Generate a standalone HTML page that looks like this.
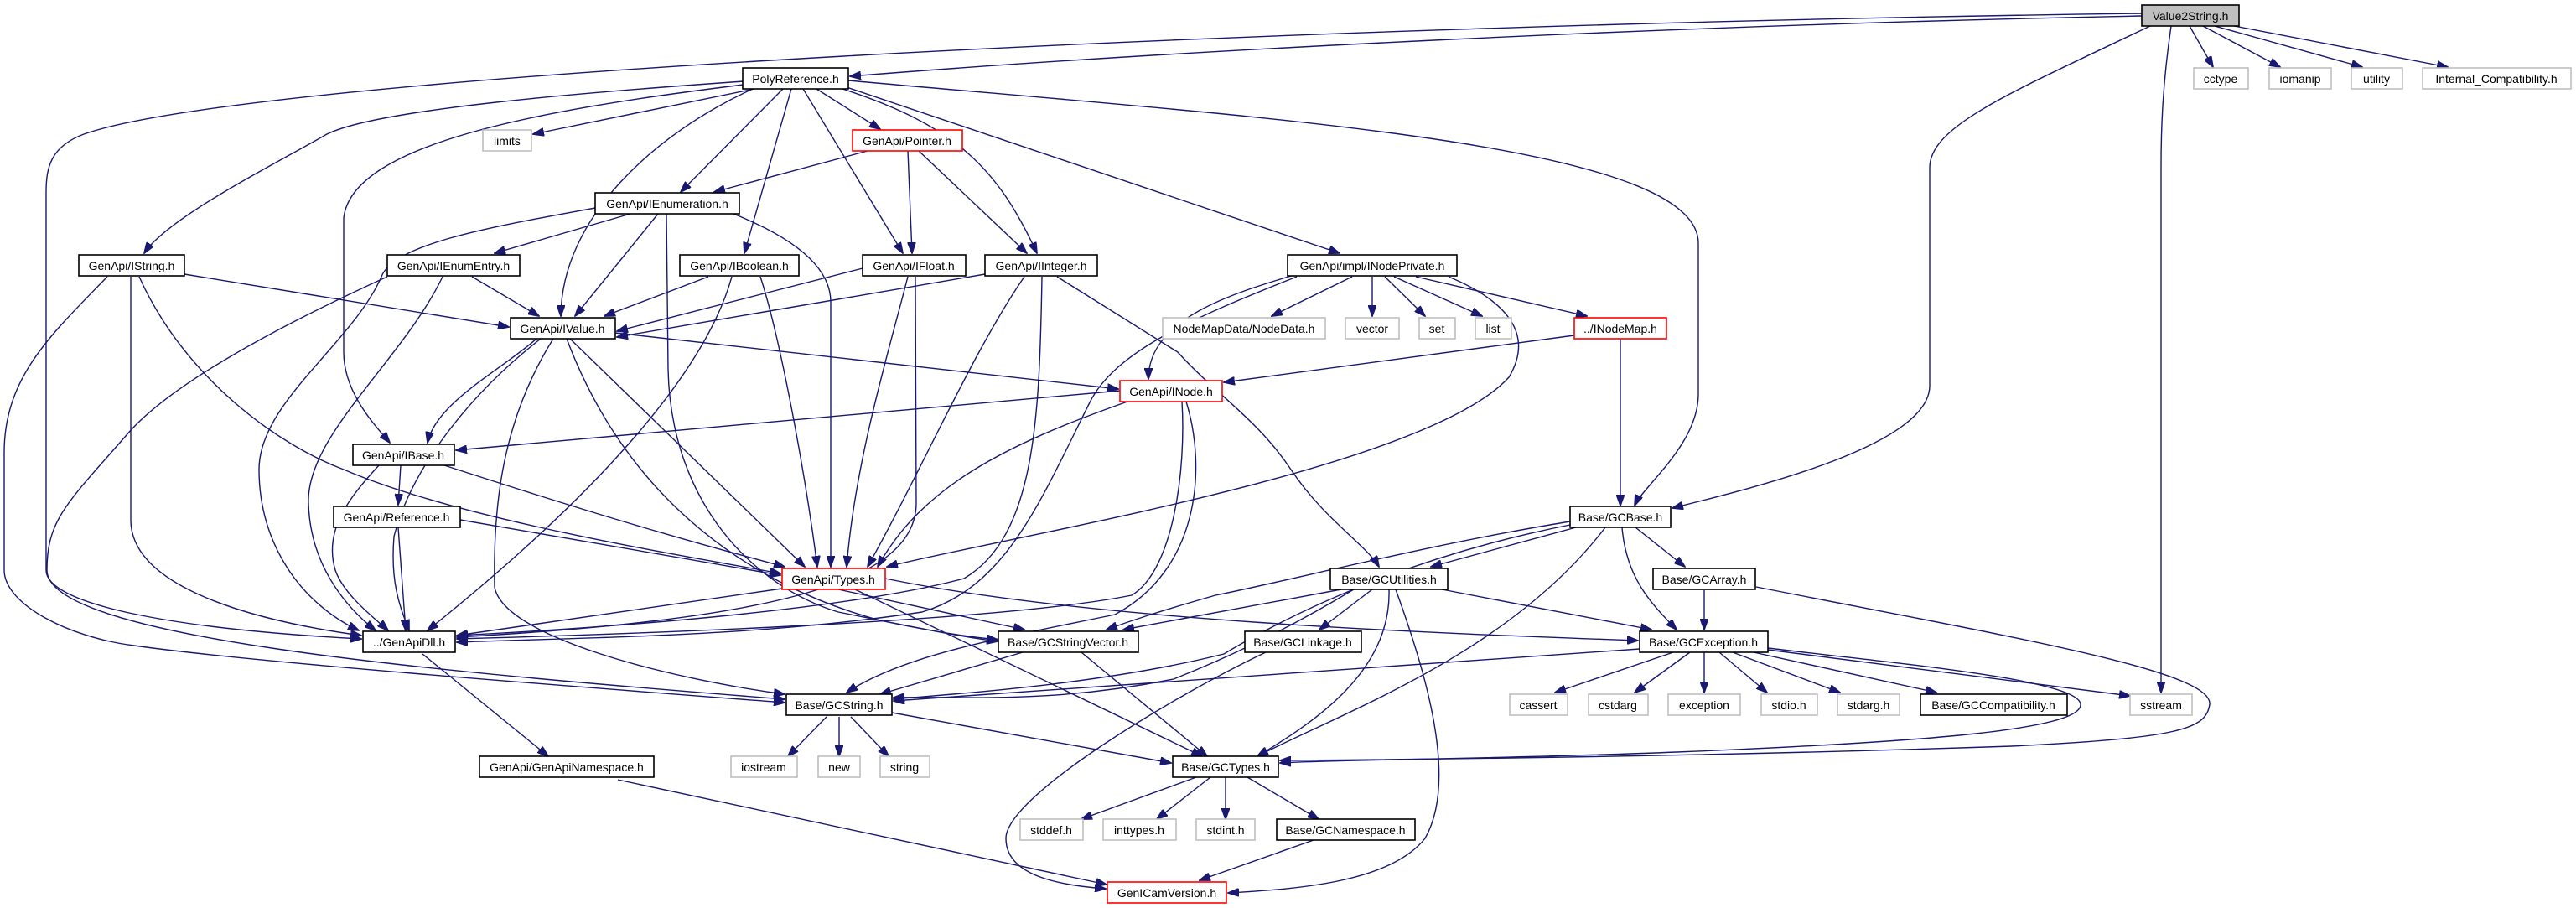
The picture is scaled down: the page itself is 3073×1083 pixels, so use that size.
<!DOCTYPE html>
<html><head><meta charset="utf-8"><style>
html,body{margin:0;padding:0;background:#fff}
svg{display:block}
text{font-family:"Liberation Sans",sans-serif;font-size:14px;fill:#000;text-anchor:middle}
.e{fill:none;stroke:#191970;stroke-width:1.4;marker-end:url(#a)}
.n{fill:#fff;stroke:#000;stroke-width:1.6}
.g{fill:#fff;stroke:#bfbfbf;stroke-width:1.6}
.r{fill:#fff;stroke:#ff0000;stroke-width:1.6}
</style></head><body>
<svg width="3073" height="1083" viewBox="0 0 3073 1083" xmlns="http://www.w3.org/2000/svg">
<defs><marker id="a" markerUnits="userSpaceOnUse" markerWidth="14" markerHeight="10" refX="13" refY="5" orient="auto"><path d="M0,0 L14,5 L0,10 z" fill="#191970" stroke="#191970"/></marker></defs>
<g>
<path class="e" d="M2555,19 C2000,30 1400,60 1014,91"/>
<path class="e" d="M2555,16 C1500,30 300,90 100,160 C60,175 55,200 55,230 L55,680 C55,720 200,750 431,762"/>
<path class="e" d="M2565,31 C2400,110 2302,150 2302,200 L2302,460 C2302,530 2100,580 1995,606"/>
<path class="e" d="M2590,31 C2580,100 2578,150 2578,200 L2578,826"/>
<path class="e" d="M2612,31 L2640,80"/>
<path class="e" d="M2628,31 L2720,80"/>
<path class="e" d="M2642,31 L2818,80"/>
<path class="e" d="M2660,30 L2920,80"/>
<path class="e" d="M1012,96 C1500,140 2026,170 2026,290 L2026,470 C2026,530 1960,580 1950,603"/>
<path class="e" d="M900,106 L636,160"/>
<path class="e" d="M887,97 C700,110 450,130 390,160 C320,200 200,260 172,302"/>
<path class="e" d="M887,101 C650,130 420,170 410,260 L410,420 C410,470 450,510 465,528"/>
<path class="e" d="M898,106 C780,160 670,260 669,377"/>
<path class="e" d="M934,106 L812,229"/>
<path class="e" d="M944,106 L888,302"/>
<path class="e" d="M958,106 L1077,302"/>
<path class="e" d="M974,106 L1050,154"/>
<path class="e" d="M1005,106 C1140,150 1190,200 1237,302"/>
<path class="e" d="M1010,104 L1598,302"/>
<path class="e" d="M1035,180 L852,229"/>
<path class="e" d="M1083,180 L1088,302"/>
<path class="e" d="M1096,180 L1225,302"/>
<path class="e" d="M752,255 L590,302"/>
<path class="e" d="M785,255 L686,377"/>
<path class="e" d="M710,248 C590,270 470,290 455,330 C420,410 309,480 309,560 C309,650 360,720 428,752"/>
<path class="e" d="M875,255 C950,285 991,320 991,360 L991,676"/>
<path class="e" d="M795,255 L797,440 C800,600 900,700 1000,730 C1100,750 1150,760 1190,765"/>
<path class="e" d="M220,327 L607,390"/>
<path class="e" d="M156,330 L156,620 C156,700 300,740 431,758"/>
<path class="e" d="M128,330 C60,400 5,450 5,540 L5,680 C5,720 80,760 160,770 C300,790 700,820 936,838"/>
<path class="e" d="M166,330 C220,450 330,530 410,560 C550,620 800,660 931,684"/>
<path class="e" d="M563,330 L643,377"/>
<path class="e" d="M528,330 C480,430 365,520 368,600 C370,680 420,730 448,752"/>
<path class="e" d="M462,330 C330,390 200,460 150,520 C80,600 56,620 56,680 C56,760 500,800 936,834"/>
<path class="e" d="M845,330 L721,377"/>
<path class="e" d="M907,330 C930,400 960,560 975,676"/>
<path class="e" d="M873,330 C840,450 700,600 510,752"/>
<path class="e" d="M1029,320 L736,395"/>
<path class="e" d="M1083,330 C1060,420 1020,550 1010,676"/>
<path class="e" d="M1092,330 L1093,600 C1093,700 900,740 545,760"/>
<path class="e" d="M1175,327 L736,402"/>
<path class="e" d="M1222,330 C1160,420 1100,560 1035,676"/>
<path class="e" d="M1243,330 C1240,500 1235,640 1150,690 C1000,730 700,750 545,758"/>
<path class="e" d="M1261,330 L1405,420 C1450,470 1500,500 1540,560 C1580,620 1630,650 1645,676"/>
<path class="e" d="M1613,330 L1517,377"/>
<path class="e" d="M1637,330 L1637,377"/>
<path class="e" d="M1652,330 L1700,377"/>
<path class="e" d="M1663,330 L1768,377"/>
<path class="e" d="M1689,330 L1893,377"/>
<path class="e" d="M1547,327 C1470,350 1370,380 1370,452"/>
<path class="e" d="M1547,330 C1420,380 1330,420 1300,480 C1240,600 1200,700 1100,730 C900,760 700,760 545,766"/>
<path class="e" d="M1728,330 C1800,360 1830,400 1800,450 C1700,560 1200,640 1058,676"/>
<path class="e" d="M1878,400 L1460,456"/>
<path class="e" d="M1933,404 L1933,603"/>
<path class="e" d="M734,397 L1334,464"/>
<path class="e" d="M640,404 C600,440 520,480 510,528"/>
<path class="e" d="M645,404 C560,470 490,560 470,640 C465,700 480,730 488,752"/>
<path class="e" d="M680,404 L960,676"/>
<path class="e" d="M660,404 C600,500 588,600 590,700 C600,760 800,810 936,828"/>
<path class="e" d="M676,404 C750,600 900,700 1050,740 C1120,755 1160,760 1190,763"/>
<path class="e" d="M1056,690 C1300,740 1700,755 1954,764"/>
<path class="e" d="M1336,466 L544,537"/>
<path class="e" d="M1345,479 C1200,530 1100,580 1047,676"/>
<path class="e" d="M1410,479 C1415,560 1400,680 1350,710 C1200,740 800,755 545,762"/>
<path class="e" d="M1415,479 C1440,560 1430,680 1330,733 C1200,760 1080,780 1010,826"/>
<path class="e" d="M478,555 L475,602"/>
<path class="e" d="M452,555 C420,590 385,630 400,680 C410,710 450,740 463,752"/>
<path class="e" d="M530,555 C700,610 800,640 936,676"/>
<path class="e" d="M475,629 L484,752"/>
<path class="e" d="M549,620 L931,686"/>
<path class="e" d="M933,702 L545,758"/>
<path class="e" d="M1000,703 L1222,751"/>
<path class="e" d="M1020,703 L1434,902"/>
<path class="e" d="M1880,629 L1707,676"/>
<path class="e" d="M1951,629 L2010,676"/>
<path class="e" d="M1935,629 C1940,690 1970,720 2000,751"/>
<path class="e" d="M1915,629 C1800,780 1600,850 1500,902"/>
<path class="e" d="M1873,622 C1700,650 1550,690 1450,710 C1380,730 1350,740 1320,751"/>
<path class="e" d="M1873,626 C1700,660 1560,720 1460,780 C1300,820 1100,830 1066,834"/>
<path class="e" d="M1600,703 L1340,751"/>
<path class="e" d="M1637,703 L1574,751"/>
<path class="e" d="M1720,703 L1970,751"/>
<path class="e" d="M1657,703 C1660,800 1570,860 1500,902"/>
<path class="e" d="M1615,703 C1520,760 1450,790 1400,810 C1250,840 1150,830 1066,832"/>
<path class="e" d="M1665,703 C1700,800 1740,930 1700,1000 C1660,1050 1560,1060 1465,1065"/>
<path class="e" d="M2033,704 L2033,751"/>
<path class="e" d="M2095,700 C2400,760 2640,800 2636,840 C2632,870 2600,880 2400,890 C2100,900 1800,905 1527,907"/>
<path class="e" d="M2109,773 C2250,790 2480,810 2482,840 C2484,870 2300,885 2000,897 C1800,905 1600,906 1527,910"/>
<path class="e" d="M1220,778 L1050,828"/>
<path class="e" d="M1290,778 L1440,902"/>
<path class="e" d="M1510,778 C1400,830 1200,950 1200,1000 C1200,1040 1250,1055 1319,1060"/>
<path class="e" d="M1956,774 L1066,836"/>
<path class="e" d="M1996,778 L1855,826"/>
<path class="e" d="M2016,778 L1950,826"/>
<path class="e" d="M2033,778 L2033,826"/>
<path class="e" d="M2051,778 L2108,826"/>
<path class="e" d="M2067,778 L2195,826"/>
<path class="e" d="M2092,778 L2310,826"/>
<path class="e" d="M2109,775 L2541,830"/>
<path class="e" d="M986,855 L940,902"/>
<path class="e" d="M1001,855 L1001,902"/>
<path class="e" d="M1015,855 L1060,902"/>
<path class="e" d="M1064,850 L1397,910"/>
<path class="e" d="M1427,927 L1290,977"/>
<path class="e" d="M1444,927 L1380,977"/>
<path class="e" d="M1462,927 L1462,977"/>
<path class="e" d="M1488,927 L1573,977"/>
<path class="e" d="M1567,1002 L1431,1050"/>
<path class="e" d="M504,780 L654,902"/>
<path class="e" d="M737,930 L1320,1055"/>
</g>
<g>
<rect x="2555" y="6" width="116" height="25" fill="#bfbfbf" stroke="#000" stroke-width="1.6"/><text x="2613" y="24">Value2String.h</text>
<rect class="n" x="886" y="81" width="126" height="25"/><text x="949" y="99">PolyReference.h</text>
<rect class="g" x="2617" y="81" width="65" height="25"/><text x="2649" y="99">cctype</text>
<rect class="g" x="2707" y="81" width="74" height="25"/><text x="2744" y="99">iomanip</text>
<rect class="g" x="2805" y="81" width="61" height="25"/><text x="2835" y="99">utility</text>
<rect class="g" x="2890" y="81" width="177" height="25"/><text x="2978" y="99">Internal_Compatibility.h</text>
<rect class="g" x="576" y="155" width="58" height="25"/><text x="605" y="173">limits</text>
<rect class="r" x="1017" y="155" width="131" height="25"/><text x="1082" y="173">GenApi/Pointer.h</text>
<rect class="n" x="710" y="230" width="172" height="25"/><text x="796" y="248">GenApi/IEnumeration.h</text>
<rect class="n" x="94" y="304" width="126" height="25"/><text x="157" y="322">GenApi/IString.h</text>
<rect class="n" x="462" y="304" width="158" height="25"/><text x="541" y="322">GenApi/IEnumEntry.h</text>
<rect class="n" x="811" y="304" width="142" height="25"/><text x="882" y="322">GenApi/IBoolean.h</text>
<rect class="n" x="1029" y="304" width="123" height="25"/><text x="1090" y="322">GenApi/IFloat.h</text>
<rect class="n" x="1175" y="304" width="134" height="25"/><text x="1242" y="322">GenApi/IInteger.h</text>
<rect class="n" x="1536" y="304" width="202" height="25"/><text x="1637" y="322">GenApi/impl/INodePrivate.h</text>
<rect class="n" x="609" y="379" width="125" height="25"/><text x="671" y="397">GenApi/IValue.h</text>
<rect class="g" x="1387" y="379" width="194" height="25"/><text x="1484" y="397">NodeMapData/NodeData.h</text>
<rect class="g" x="1605" y="379" width="64" height="25"/><text x="1637" y="397">vector</text>
<rect class="g" x="1693" y="379" width="43" height="25"/><text x="1714" y="397">set</text>
<rect class="g" x="1760" y="379" width="43" height="25"/><text x="1781" y="397">list</text>
<rect class="r" x="1878" y="379" width="110" height="25"/><text x="1933" y="397">../INodeMap.h</text>
<rect class="r" x="1336" y="454" width="122" height="25"/><text x="1397" y="472">GenApi/INode.h</text>
<rect class="n" x="421" y="530" width="121" height="25"/><text x="481" y="548">GenApi/IBase.h</text>
<rect class="n" x="398" y="604" width="151" height="25"/><text x="473" y="622">GenApi/Reference.h</text>
<rect class="n" x="1873" y="604" width="120" height="25"/><text x="1933" y="622">Base/GCBase.h</text>
<rect class="r" x="933" y="678" width="123" height="25"/><text x="994" y="696">GenApi/Types.h</text>
<rect class="n" x="1587" y="678" width="140" height="25"/><text x="1657" y="696">Base/GCUtilities.h</text>
<rect class="n" x="1972" y="678" width="122" height="25"/><text x="2033" y="696">Base/GCArray.h</text>
<rect class="n" x="433" y="753" width="110" height="25"/><text x="488" y="771">../GenApiDll.h</text>
<rect class="n" x="1191" y="753" width="167" height="25"/><text x="1274" y="771">Base/GCStringVector.h</text>
<rect class="n" x="1485" y="753" width="139" height="25"/><text x="1554" y="771">Base/GCLinkage.h</text>
<rect class="n" x="1956" y="753" width="153" height="25"/><text x="2032" y="771">Base/GCException.h</text>
<rect class="n" x="938" y="828" width="126" height="25"/><text x="1001" y="846">Base/GCString.h</text>
<rect class="g" x="1801" y="828" width="69" height="25"/><text x="1835" y="846">cassert</text>
<rect class="g" x="1895" y="828" width="71" height="25"/><text x="1930" y="846">cstdarg</text>
<rect class="g" x="1990" y="828" width="86" height="25"/><text x="2033" y="846">exception</text>
<rect class="g" x="2101" y="828" width="67" height="25"/><text x="2134" y="846">stdio.h</text>
<rect class="g" x="2192" y="828" width="74" height="25"/><text x="2229" y="846">stdarg.h</text>
<rect class="n" x="2291" y="828" width="175" height="25"/><text x="2378" y="846">Base/GCCompatibility.h</text>
<rect class="g" x="2541" y="828" width="74" height="25"/><text x="2578" y="846">sstream</text>
<rect class="n" x="572" y="902" width="208" height="25"/><text x="676" y="920">GenApi/GenApiNamespace.h</text>
<rect class="g" x="872" y="902" width="79" height="25"/><text x="911" y="920">iostream</text>
<rect class="g" x="976" y="902" width="50" height="25"/><text x="1001" y="920">new</text>
<rect class="g" x="1050" y="902" width="59" height="25"/><text x="1079" y="920">string</text>
<rect class="n" x="1399" y="902" width="126" height="25"/><text x="1462" y="920">Base/GCTypes.h</text>
<rect class="g" x="1217" y="977" width="75" height="25"/><text x="1254" y="995">stddef.h</text>
<rect class="g" x="1316" y="977" width="87" height="25"/><text x="1359" y="995">inttypes.h</text>
<rect class="g" x="1427" y="977" width="70" height="25"/><text x="1462" y="995">stdint.h</text>
<rect class="n" x="1523" y="977" width="165" height="25"/><text x="1605" y="995">Base/GCNamespace.h</text>
<rect class="r" x="1321" y="1052" width="142" height="25"/><text x="1392" y="1070">GenICamVersion.h</text>
</g>
</svg>
</body></html>
